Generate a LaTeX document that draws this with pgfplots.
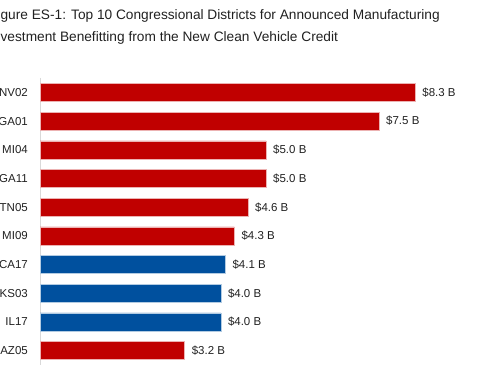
\documentclass[border=0pt]{standalone}
\usepackage{pgfplots}
\pgfplotsset{compat=1.18}
\usepackage{fontspec}
\setmainfont{Liberation Sans}
\definecolor{barred}{RGB}{192,0,0}
\definecolor{barblue}{RGB}{0,80,158}
\definecolor{txt}{RGB}{33,33,33}
\begin{document}
\begin{tikzpicture}[x=1pt,y=1pt]
\path[use as bounding box, clip] (0,0) rectangle (500,383);
\node[anchor=base west, inner sep=0, font=\fontsize{13.7}{16}\selectfont, text=txt] at (-11,363) {Figure ES-1: Top 10 Congressional Districts for Announced Manufacturing};
\node[anchor=base west, inner sep=0, font=\fontsize{13.7}{16}\selectfont, text=txt] at (-11,341) {Investment Benefitting from the New Clean Vehicle Credit};
\begin{axis}[
  at={(40pt,18pt)}, anchor=south west,
  scale only axis, width=452pt, height=287pt,
  xmin=0, xmax=10, ymin=-0.5, ymax=9.5,
  y dir=reverse,
  xbar, bar width=18pt, bar shift=0pt,
  axis x line=none,
  axis y line*=left,
  y axis line style={draw=black!15, line width=0.8pt},
  ytick={0,...,9},
  yticklabels={NV02,GA01,MI04,GA11,TN05,MI09,CA17,KS03,IL17,AZ05},
  major tick length=0pt,
  yticklabel style={font=\fontsize{11.5}{13}\selectfont, text=txt, inner xsep=0pt, xshift=-12pt},
  /pgf/number format/assume math mode=true,
  nodes near coords={\$\pgfmathprintnumber[fixed,fixed zerofill,precision=1]{\pgfplotspointmeta}~B},
  every node near coord/.append style={anchor=west, font=\fontsize{11.5}{13}\selectfont, text=txt, inner xsep=0pt, xshift=7pt},
  point meta=x,
]
\addplot[fill=barred, draw=white!70!barred, line width=0.4pt] coordinates {(8.3,0) (7.5,1) (5.0,2) (5.0,3) (4.6,4) (4.3,5) (3.2,9)};
\addplot[fill=barblue, draw=white!70!barblue, line width=0.4pt] coordinates {(4.1,6) (4.0,7) (4.0,8)};
\end{axis}
\end{tikzpicture}
\end{document}
